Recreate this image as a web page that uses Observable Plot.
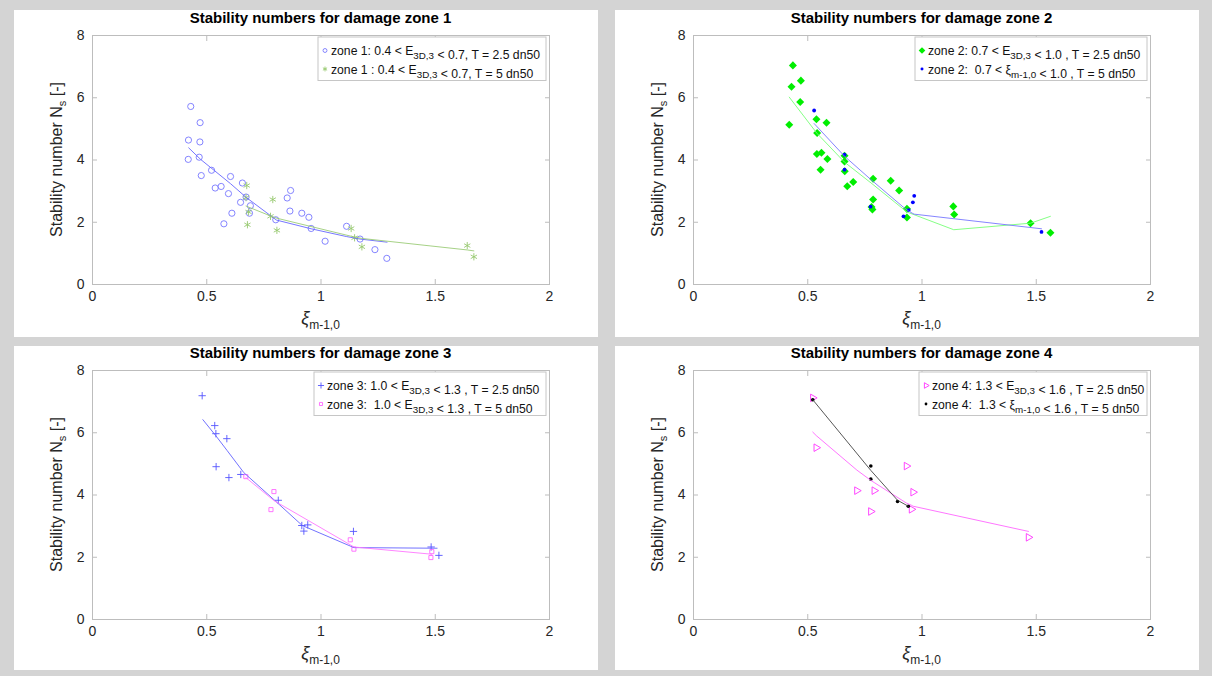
<!DOCTYPE html>
<html><head><meta charset="utf-8">
<script src="https://cdn.jsdelivr.net/npm/d3@7"></script>
<script src="https://cdn.jsdelivr.net/npm/@observablehq/plot@0.6"></script>
<style>
body{margin:0;background:#d4d4d4;width:1212px;height:676px;overflow:hidden;font-family:"Liberation Sans",Arial,Helvetica,sans-serif;}
.panel{position:absolute;background:#fff;}
.panel svg{display:block;}
</style></head>
<body>
<div id="p0" class="panel"></div>
<div id="p1" class="panel"></div>
<div id="p2" class="panel"></div>
<div id="p3" class="panel"></div>
<script>
// ---------- data ----------
const xTicks = [0, 0.5, 1, 1.5, 2];
const xTickLabels = ["0", "0.5", "1", "1.5", "2"];
const yTicks = [0, 2, 4, 6, 8];
const yTickLabels = ["0", "2", "4", "6", "8"];
const titles = ["Stability numbers for damage zone 1","Stability numbers for damage zone 2","Stability numbers for damage zone 3","Stability numbers for damage zone 4"];
const yLabel = ["Stability number N", "s", " [-]"];
const xLabel = ["ξ", "m-1,0"];

// zone 1
const z1a_x = [0.430,0.471,0.420,0.470,0.419,0.467,0.521,0.476,0.604,0.656,0.537,0.563,0.595,0.672,0.648,0.691,0.610,0.687,0.867,0.852,0.864,0.916,0.947,0.802,0.575,0.957,1.018,1.112,1.171,1.236,1.288];
const z1a_y = [5.72,5.20,4.64,4.58,4.02,4.09,3.67,3.50,3.47,3.26,3.10,3.15,2.92,2.81,2.64,2.53,2.29,2.29,3.02,2.78,2.36,2.29,2.16,2.08,1.95,1.80,1.39,1.87,1.46,1.12,0.84];
const z1b_x = [0.675,0.789,0.672,0.683,0.678,0.779,0.807,1.132,1.147,1.179,1.640,1.669];
const z1b_y = [3.18,2.73,2.79,2.33,1.92,2.19,1.74,1.80,1.50,1.21,1.25,0.89];
const z1a_fit_x = [0.421,0.473,0.604,0.674,0.805,0.957,1.112,1.171,1.289];
const z1a_fit_y = [4.39,4.02,3.24,2.79,2.07,1.79,1.54,1.46,1.36];
const z1b_fit_x = [0.672,0.780,0.807,1.132,1.179,1.640,1.669];
const z1b_fit_y = [2.52,2.20,2.13,1.55,1.48,1.11,1.08];
const z1_legend = ["zone 1: 0.4 < E_{3D,3} < 0.7, T = 2.5 dn50", "zone 1 : 0.4 < E_{3D,3} < 0.7, T = 5 dn50"];

// zone 2
const z2a_x = [0.435,0.470,0.429,0.467,0.419,0.538,0.582,0.541,0.540,0.560,0.586,0.556,0.661,0.661,0.662,0.786,0.863,0.900,0.673,0.699,0.786,0.779,0.783,0.934,0.934,1.137,1.141,1.475,1.562];
const z2a_y = [7.04,6.55,6.35,5.86,5.13,5.31,5.20,4.87,4.19,4.23,4.03,3.69,4.14,3.95,3.64,3.40,3.33,3.02,3.16,3.29,2.73,2.49,2.41,2.43,2.15,2.51,2.25,1.97,1.66];
const z2b_x = [0.528,0.661,0.661,0.775,0.966,0.960,0.942,0.919,1.523];
const z2b_y = [5.59,4.17,3.69,2.50,2.85,2.64,2.39,2.19,1.69];
const z2a_fit_x = [0.419,0.540,0.661,0.786,0.934,1.139,1.475,1.562];
const z2a_fit_y = [6.02,4.86,3.93,3.21,2.33,1.76,1.97,2.19];
const z2b_fit_x = [0.528,0.661,0.775,0.919,0.942,0.960,0.966,1.523];
const z2b_fit_y = [5.17,4.12,3.38,2.48,2.36,2.28,2.26,1.79];
const z2_legend = ["zone 2: 0.7 < E_{3D,3} < 1.0 , T = 2.5 dn50", "zone 2:  0.7 < ξ_{m-1,0} < 1.0 , T = 5 dn50"];

// zone 3
const z3a_x = [0.480,0.535,0.540,0.588,0.541,0.597,0.649,0.813,0.916,0.942,0.925,1.142,1.482,1.516];
const z3a_y = [7.19,6.23,5.97,5.81,4.91,4.56,4.66,3.83,3.02,3.04,2.84,2.83,2.33,2.06];
const z3b_x = [0.671,0.794,0.781,1.128,1.144,1.485,1.481];
const z3b_y = [4.59,4.11,3.53,2.56,2.26,2.18,1.99];
const z3a_fit_x = [0.483,0.538,0.589,0.662,0.794,0.918,1.144,1.508];
const z3a_fit_y = [6.42,5.92,5.43,4.72,3.85,3.02,2.31,2.29];
const z3b_fit_x = [0.671,0.781,0.794,1.128,1.144,1.481,1.485];
const z3b_fit_y = [4.56,3.90,3.82,2.40,2.33,2.10,2.09];
const z3_legend = ["zone 3: 1.0 < E_{3D,3} < 1.3 , T = 2.5 dn50", "zone 3:  1.0 < E_{3D,3} < 1.3 , T = 5 dn50"];

// zone 4
const z4a_x = [0.522,0.537,0.932,0.715,0.791,0.961,0.776,0.954,1.466];
const z4a_y = [7.12,5.52,4.93,4.14,4.14,4.09,3.47,3.54,2.64];
const z4b_x = [0.522,0.776,0.776,0.893,0.940];
const z4b_y = [7.06,4.93,4.51,3.79,3.64];
const z4a_fit_x = [0.522,0.537,0.715,0.776,0.791,0.932,0.954,0.961,1.466];
const z4a_fit_y = [6.02,5.91,4.80,4.47,4.40,3.74,3.67,3.64,2.83];
const z4b_fit_x = [0.522,0.776,0.893,0.940];
const z4b_fit_y = [7.06,4.79,3.83,3.64];
const z4_legend = ["zone 4: 1.3 < E_{3D,3} < 1.6 , T = 2.5 dn50", "zone 4:  1.3 < ξ_{m-1,0} < 1.6 , T = 5 dn50"];

// ---------- build ----------
const zip = (xs, ys) => xs.map((x, i) => ({x, y: ys[i]}));
const FONT = '"Liberation Sans", Arial, Helvetica, sans-serif';
const AX = "#bdbdbd";
const TXT = "#262626";

const symMap = {circle: d3.symbolCircle, asterisk: d3.symbolAsterisk, square: d3.symbolSquare, plus: d3.symbolPlus, square2: d3.symbolSquare2, triangle2: d3.symbolTriangle2};

const panels = [
  {id:"p0", left:14, top:10, h:327, mt:25, mb:53, title:titles[0], legend:z1_legend, lgDx:226,
   series:[
     {data:zip(z1a_x,z1a_y), symbol:"circle", r:3.1, stroke:"#7777ff", fill:"none", lsize:12},
     {data:zip(z1b_x,z1b_y), symbol:"asterisk", r:3.4, stroke:"#96c86e", fill:"none", lsize:16}],
   fits:[{data:zip(z1a_fit_x,z1a_fit_y), stroke:"#6666ff"},{data:zip(z1b_fit_x,z1b_fit_y), stroke:"#9ccc78"}]},
  {id:"p1", left:615, top:10, h:327, mt:25, mb:53, title:titles[1], legend:z2_legend, lgDx:222,
   series:[
     {data:zip(z2a_x,z2a_y), symbol:"square", rotate:45, r:3.2, stroke:"none", fill:"#00ee00", lsize:22},
     {data:zip(z2b_x,z2b_y), symbol:"circle", r:1.9, stroke:"none", fill:"#0000ff", lsize:7}],
   fits:[{data:zip(z2a_fit_x,z2a_fit_y), stroke:"#77ff77"},{data:zip(z2b_fit_x,z2b_fit_y), stroke:"#7777ff"}]},
  {id:"p2", left:14, top:346, h:324, mt:24, mb:51, title:titles[2], legend:z3_legend, lgDx:222,
   series:[
     {data:zip(z3a_x,z3a_y), symbol:"plus", r:2.5, stroke:"#5555ff", fill:"none", lsize:14},
     {data:zip(z3b_x,z3b_y), symbol:"square2", r:2.6, stroke:"#ff66ff", fill:"none", lsize:12}],
   fits:[{data:zip(z3a_fit_x,z3a_fit_y), stroke:"#6262ff"},{data:zip(z3b_fit_x,z3b_fit_y), stroke:"#ff77ff"}]},
  {id:"p3", left:615, top:346, h:324, mt:24, mb:51, title:titles[3], legend:z4_legend, lgDx:226,
   series:[
     {data:zip(z4a_x,z4a_y), symbol:"triangle2", rotate:90, r:3.6, stroke:"#ff33ff", fill:"none", lsize:22},
     {data:zip(z4b_x,z4b_y), symbol:"circle", r:1.8, stroke:"none", fill:"#000000", lsize:6}],
   fits:[{data:zip(z4a_fit_x,z4a_fit_y), stroke:"#ff66ff"},{data:zip(z4b_fit_x,z4b_fit_y), stroke:"#444444"}]}
];

const W = 584, ML = 78, MR = 49;
const xFmt = d => xTickLabels[xTicks.indexOf(d)];
const yFmt = d => yTickLabels[yTicks.indexOf(d)];

function addRich(textSel, str, baseSize, subSize, subDy) {
  const parts = str.split(/(_\{[^}]*\})/).filter(s => s.length);
  parts.forEach(p => {
    if (p.startsWith("_{")) {
      textSel.append("tspan").attr("dy", subDy).attr("font-size", subSize).text(p.slice(2, -1));
      textSel.append("tspan").attr("dy", -subDy).attr("font-size", baseSize).text("");
    } else {
      textSel.append("tspan").attr("font-size", baseSize).text(p);
    }
  });
}

panels.forEach(p => {
  const div = document.getElementById(p.id);
  div.style.left = p.left + "px"; div.style.top = p.top + "px";
  div.style.width = W + "px"; div.style.height = p.h + "px";

  const marks = [
    Plot.frame({stroke: AX, strokeWidth: 1}),
    Plot.axisX(xTicks, {anchor:"bottom", tickSize:0, tickPadding:7, tickFormat:xFmt, label:null, fill:TXT, fontSize:14}),
    Plot.axisX(xTicks, {anchor:"bottom", tickSize:5, dy:-5, tickFormat:() => "", label:null, stroke:AX}),
    Plot.axisX(xTicks, {anchor:"top", tickSize:5, dy:5, tickFormat:() => "", label:null, stroke:AX}),
    Plot.axisY(yTicks, {anchor:"left", tickSize:0, tickPadding:8, tickFormat:yFmt, label:null, fill:TXT, fontSize:14}),
    Plot.axisY(yTicks, {anchor:"left", tickSize:5, dx:5, tickFormat:() => "", label:null, stroke:AX}),
    Plot.axisY(yTicks, {anchor:"right", tickSize:5, dx:-5, tickFormat:() => "", label:null, stroke:AX}),
  ];
  p.series.forEach(s => {
    const o = {x:"x", y:"y", symbol: s.symbol, r: s.r, stroke: s.stroke, fill: s.fill, strokeWidth: 0.9};
    if (s.rotate) o.rotate = s.rotate;
    marks.push(Plot.dot(s.data, o));
  });
  p.fits.forEach(f => marks.push(Plot.line(f.data, {x:"x", y:"y", stroke:f.stroke, strokeWidth:0.9})));

  const svg = Plot.plot({
    width: W, height: p.h,
    marginLeft: ML, marginRight: MR, marginTop: p.mt, marginBottom: p.mb,
    x: {domain: [0, 2]}, y: {domain: [0, 8]},
    style: {fontFamily: FONT, fontSize: "14px", color: TXT, background: "white", overflow: "visible"},
    marks
  });
  div.appendChild(svg);

  const s = d3.select(svg);
  const plotL = ML, plotR = W - MR, plotT = p.mt, plotB = p.h - p.mb;
  const cx = (plotL + plotR) / 2, cy = (plotT + plotB) / 2;

  // title
  s.append("text").attr("x", cx).attr("y", plotT - 12).attr("text-anchor", "middle")
    .attr("font-family", FONT).attr("font-weight", "bold").attr("font-size", 15).attr("fill", "#000").text(p.title);

  // y label
  const yl = s.append("text").attr("transform", `translate(${plotL - 30},${cy}) rotate(-90)`)
    .attr("text-anchor", "middle").attr("font-family", FONT).attr("fill", TXT);
  yl.append("tspan").attr("font-size", 16).text(yLabel[0]);
  yl.append("tspan").attr("font-size", 11).attr("dy", 4).text(yLabel[1]);
  yl.append("tspan").attr("font-size", 16).attr("dy", -4).text(yLabel[2]);

  // x label
  const xl = s.append("text").attr("x", cx).attr("y", plotB + 40).attr("text-anchor", "middle")
    .attr("font-family", FONT).attr("fill", TXT);
  xl.append("tspan").attr("font-size", 18).attr("font-style", "italic").text(xLabel[0]);
  xl.append("tspan").attr("font-size", 12).attr("dy", 5).text(xLabel[1]);

  // legend
  const lx = plotL + p.lgDx, ly = plotT + 2, lw = plotR - 3 - lx, lh = 43.5;
  s.append("rect").attr("x", lx).attr("y", ly).attr("width", lw).attr("height", lh)
    .attr("fill", "white").attr("stroke", "#c6c6c6").attr("stroke-width", 1);
  const rows = [13.5, 32];
  p.series.forEach((ser, i) => {
    const ry = ly + rows[i];
    s.append("path").attr("d", d3.symbol(symMap[ser.symbol], ser.lsize)())
      .attr("transform", `translate(${lx + 7},${ry}) rotate(${ser.rotate || 0})`)
      .attr("fill", ser.fill).attr("stroke", ser.stroke).attr("stroke-width", 0.9);
    const t = s.append("text").attr("x", lx + 13).attr("y", ry + 4.5).attr("font-family", FONT)
      .attr("text-anchor", "start").attr("fill", "#111").style("white-space", "pre");
    addRich(t, p.legend[i], 12.2, 9.8, 4);
  });
});
</script>
</body></html>
